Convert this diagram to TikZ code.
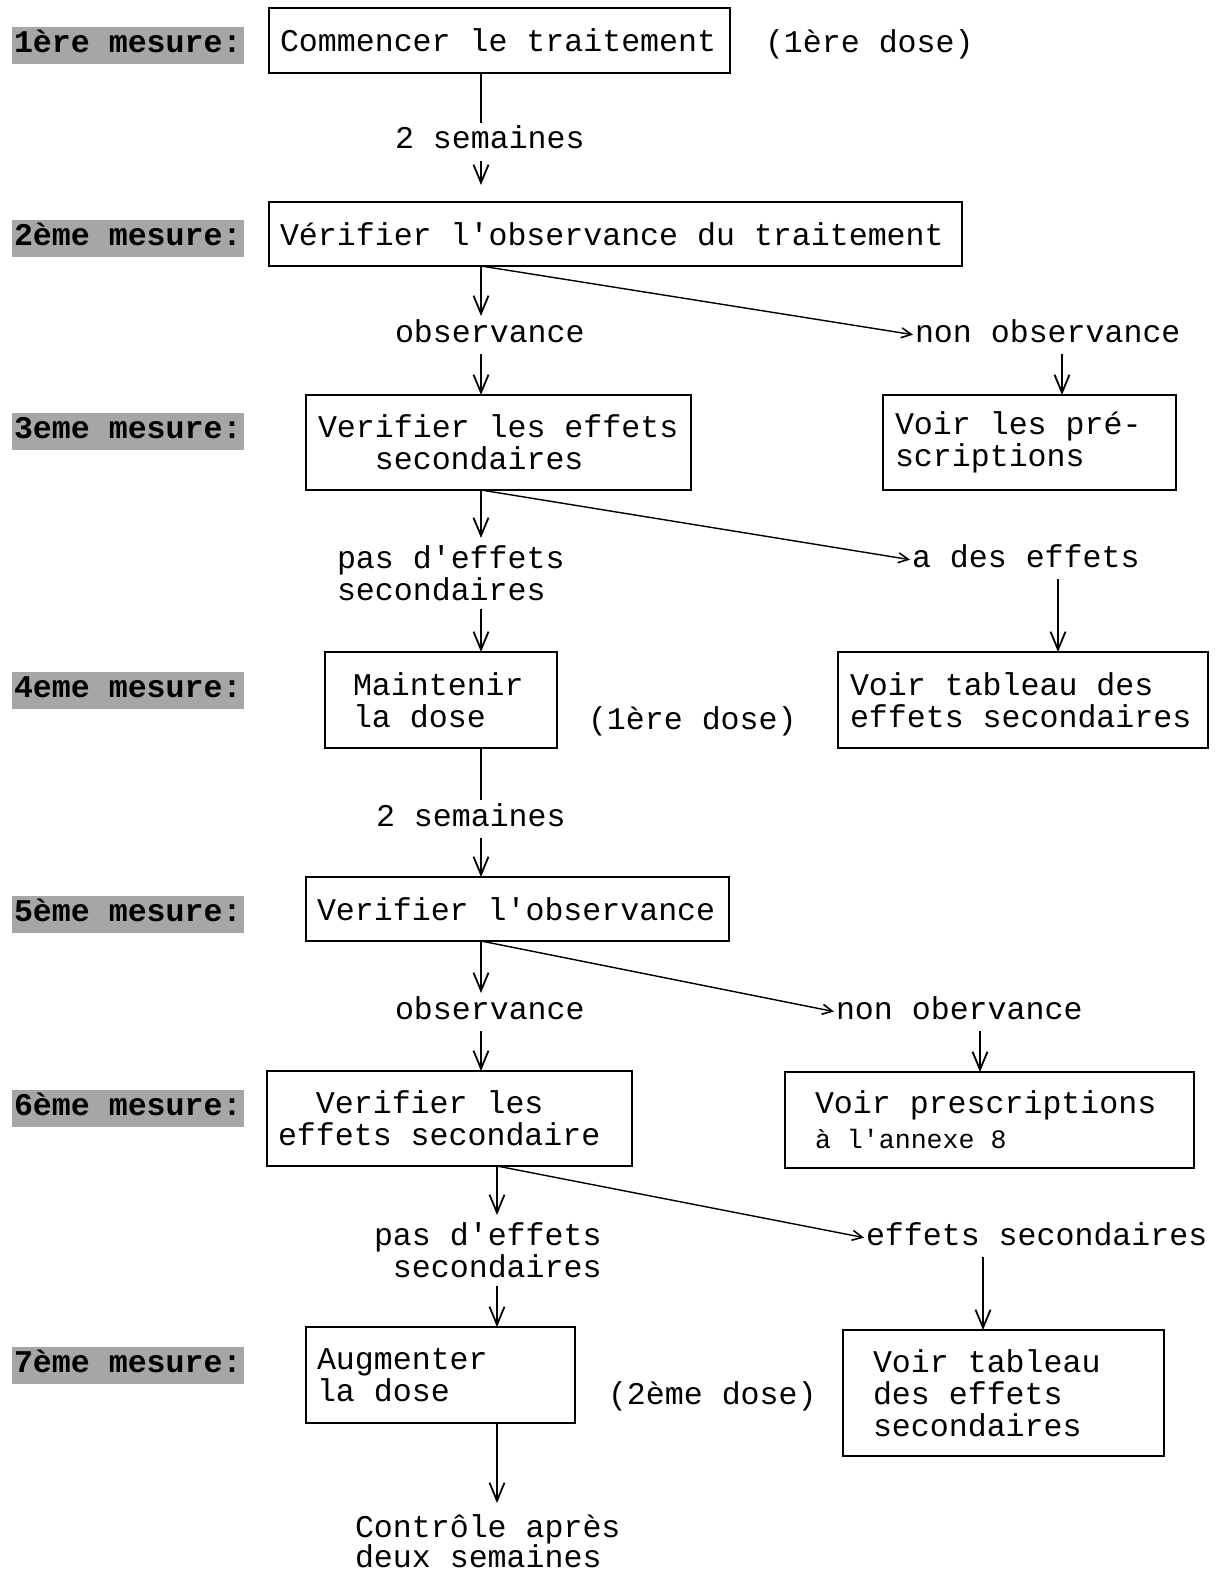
\documentclass[tikz,border=0pt]{standalone}
\usepackage{fontspec}
\setmainfont{Liberation Mono}
\usetikzlibrary{arrows.meta}
\newcommand\fixsp{\spaceskip=0pt\xspaceskip=0pt\relax}
\newcommand\q{\textquotesingle}
\begin{document}
\begin{tikzpicture}[x=0.5pt,y=-0.5pt,
  every node/.style={font=\fontsize{15.8}{16}\selectfont, outer sep=0pt},
  bx/.style={draw, line width=1pt, anchor=north west, align=left, inner ysep=0pt},
  lbl/.style={anchor=west, text height=10pt, text depth=3pt, inner xsep=0pt, inner ysep=3pt},
  mlbl/.style={anchor=north west, align=left, inner sep=0pt},
  tag/.style={anchor=west, fill=black!35, text height=10pt, text depth=3pt, inner xsep=1pt, inner ysep=2.75pt, font=\fontsize{15.8}{16}\selectfont\bfseries},
  ln/.style={line width=0.9pt},
  arr/.style={line width=0.9pt, -{Straight Barb[length=9pt,width=7.5pt,line width=0.9pt]}},
  arrs/.style={line width=0.7pt, -{Straight Barb[length=5pt,width=5pt,line width=0.8pt]}, shorten >=1pt}]
\useasboundingbox (0,0) rectangle (1225,1573);

% column coordinates
\coordinate (colA) at (481,0);
\coordinate (colB) at (497,0);
\coordinate (colC) at (1062,0);
\coordinate (colD) at (1058,0);
\coordinate (colE) at (980,0);
\coordinate (colF) at (983,0);

% left tags
\node[tag] (T1) at (12,46)   {1ère mesure:};
\node[tag] (T2) at (12,239)  {2ème mesure:};
\node[tag] (T3) at (12,431)  {3eme mesure:};
\node[tag] (T4) at (12,690)  {4eme mesure:};
\node[tag] (T5) at (12,914)  {5ème mesure:};
\node[tag] (T6) at (12,1108) {6ème mesure:};
\node[tag] (T7) at (12,1365) {7ème mesure:};

% boxes
\node[bx, minimum width=230.5pt, minimum height=32.5pt, inner xsep=5.5pt, text width=219.5pt] (B1) at (269,8) {\fixsp Commencer le traitement};
\node[bx, minimum width=346.5pt, minimum height=32pt, inner xsep=5.5pt, text width=335.5pt] (B2) at (269,202) {\fixsp Vérifier l\q observance du traitement};
\node[bx, minimum width=192.5pt, minimum height=47.5pt, inner xsep=6pt, text width=180.5pt] (B3) at (306,395) {\fixsp Verifier les effets\\\hphantom{xxx}secondaires};
\node[bx, minimum width=146.5pt, minimum height=47.5pt, inner xsep=6pt, text width=134.5pt] (B3r) at (883,395) {\fixsp Voir les pré-\\scriptions};
\node[bx, minimum width=116pt, minimum height=48pt, inner xsep=14pt, text width=88pt] (B4) at (325,652) {\fixsp Maintenir\\la dose};
\node[bx, minimum width=185pt, minimum height=48pt, inner xsep=6pt, text width=173pt] (B4r) at (838,652) {\fixsp Voir tableau des\\effets secondaires};
\node[bx, minimum width=211.5pt, minimum height=32pt, inner xsep=5.5pt, text width=200.5pt] (B5) at (306,877) {\fixsp Verifier l\q observance};
\node[bx, minimum width=182.5pt, minimum height=47.5pt, inner xsep=5.5pt, text width=171.5pt] (B6) at (267,1071) {\fixsp\hphantom{xx}Verifier les\\effets secondaire};
\node[bx, minimum width=204.5pt, minimum height=48pt, inner xsep=15pt, text width=174.5pt] (B6r) at (785,1072) {\fixsp Voir prescriptions\\[1.5pt]{\fontsize{13.3}{16}\selectfont à l\q annexe 8}};
\node[bx, minimum width=134.5pt, minimum height=48pt, inner xsep=5.5pt, text width=123.5pt] (B7) at (306,1327) {\fixsp Augmenter\\la dose};
\node[bx, minimum width=160.5pt, minimum height=63pt, inner xsep=15pt, text width=130.5pt] (B7r) at (843,1330) {\fixsp Voir tableau\\des effets\\secondaires};

% labels
\node[lbl] (Ld1) at (765,46) {(1ère dose)};
\node[lbl] (Lsem1) at (395,142) {2 semaines};
\node[lbl] (Lobs1) at (395,335) {observance};
\node[lbl] (Lnon1) at (915,335) {non observance};
\node[mlbl] (Lpas1) at (337,546) {pas d\q effets\\secondaires};
\node[lbl] (Ldes) at (912,560) {a des effets};
\node[lbl] (Ld2) at (588,722) {(1ère dose)};
\node[lbl] (Lsem2) at (376,819) {2 semaines};
\node[lbl] (Lobs2) at (395,1012) {observance};
\node[lbl] (Lnon2) at (836,1012) {non obervance};
\node[mlbl] (Lpas2) at (374,1223) {pas d\q effets\\\hphantom{x}secondaires};
\node[lbl] (Leff) at (866,1238) {effets secondaires};
\node[lbl] (Ld3) at (608,1397) {(2ème dose)};
\node[mlbl, font=\fontsize{15.8}{15}\selectfont] (Lctrl) at (355,1515) {Contrôle après\\deux semaines};

% connectors
\draw[ln] (B1.south -| colA) -- (Lsem1.north -| colA);
\draw[arr, shorten >=8.5pt] (Lsem1.south -| colA) -- (B2.north -| colA);

\draw[arr] (B2.south -| colA) -- (Lobs1.north -| colA);
\draw[arr] (Lobs1.south -| colA) -- (B3.north -| colA);
\draw[arrs] (B2.south -| colA) -- (Lnon1.west);
\draw[arr] (Lnon1.south -| colC) -- (B3r.north -| colC);

\draw[arr, shorten >=4pt] (B3.south -| colA) -- (Lpas1.north -| colA);
\draw[arr, shorten <=4pt] (Lpas1.south -| colA) -- (B4.north -| colA);
\draw[arrs] (B3.south -| colA) -- (Ldes.west);
\draw[arr] (Ldes.south -| colD) -- (B4r.north -| colD);

\draw[ln] (B4.south -| colA) -- (Lsem2.north -| colA);
\draw[arr] (Lsem2.south -| colA) -- (B5.north -| colA);

\draw[arr] (B5.south -| colA) -- (Lobs2.north -| colA);
\draw[arr] (Lobs2.south -| colA) -- (B6.north -| colA);
\draw[arrs] (B5.south -| colA) -- (Lnon2.west);
\draw[arr] (Lnon2.south -| colE) -- (B6r.north -| colE);

\draw[arr, shorten >=4pt] (B6.south -| colB) -- (Lpas2.north -| colB);
\draw[arr, shorten <=4pt] (Lpas2.south -| colB) -- (B7.north -| colB);
\draw[arrs] (B6.south -| colB) -- (Leff.west);
\draw[arr] (Leff.south -| colF) -- (B7r.north -| colF);

\draw[arr, shorten >=6pt] (B7.south -| colB) -- (Lctrl.north -| colB);
\end{tikzpicture}
\end{document}
